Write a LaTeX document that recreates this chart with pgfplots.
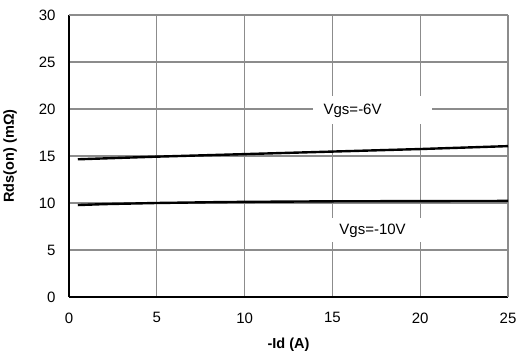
\documentclass[border=0pt]{standalone}
\usepackage{pgfplots}
\pgfplotsset{compat=1.18}
\usepackage{fontspec}
\setmainfont{Liberation Sans}
\begin{document}
\begin{tikzpicture}
\begin{axis}[
  scale only axis,
  width=439pt, height=282pt,
  xmin=0, xmax=25, ymin=0, ymax=30,
  xtick={0,5,...,25}, ytick={0,5,...,30},
  axis lines*=left,
  axis line style={black, line width=1.3pt},
  grid=major,
  major grid style={draw=gray!90, line width=1.2pt},
  tick style={draw=none},
  /pgf/number format/assume math mode=true,
  ticklabel style={font=\fontsize{15}{17}\selectfont},
  xticklabel style={yshift=-12pt},
  yticklabel style={xshift=-10pt},
  xlabel={\textbf{-Id (A)}},
  ylabel={\textbf{Rds(on) (mΩ)}},
  label style={font=\fontsize{14.5}{16}\selectfont},
  xlabel style={yshift=-8pt},
  ylabel style={yshift=15pt},
  clip=false,
]
\fill[white] (axis cs:13.9,18.4) rectangle (axis cs:20.7,21.4);
\fill[white] (axis cs:14.9,5.8) rectangle (axis cs:20.3,8.4);
\draw[gray!90, line width=1.2pt] (axis cs:25,0) -- (axis cs:25,30);
\draw[gray!90, line width=1.2pt] (axis cs:0,30) -- (axis cs:25,30);
\node[font=\fontsize{15}{17}\selectfont, anchor=west] at (axis cs:14.3,19.8) {Vgs=-6V};
\node[font=\fontsize{15}{17}\selectfont, anchor=west] at (axis cs:15.2,7.0) {Vgs=-10V};
\addplot[black, line width=2.4pt, no marks] coordinates {
 (0.5,14.65) (5,14.93) (10,15.2) (15,15.47) (20,15.74) (25,16.05)};
\addplot[black, line width=2.4pt, no marks] coordinates {
 (0.5,9.78) (2,9.88) (5,10.0) (8,10.08) (10,10.12) (15,10.18) (20,10.2) (25,10.22)};
\coordinate (bbA) at (rel axis cs:0,0);
\coordinate (bbB) at (rel axis cs:1,1);
\end{axis}
\pgfresetboundingbox
\path[use as bounding box] ([xshift=-69pt,yshift=-65pt]bbA) rectangle ([xshift=10pt,yshift=15pt]bbB);
\end{tikzpicture}
\end{document}
